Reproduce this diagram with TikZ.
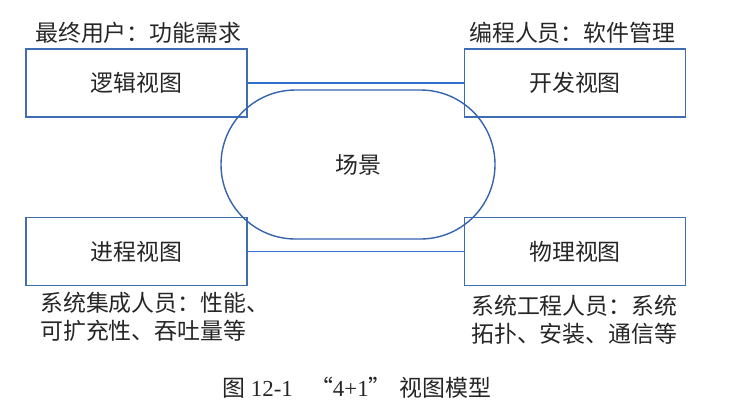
\documentclass[tikz,border=0pt]{standalone}
\usepackage{fontspec}
\setmainfont{Liberation Serif}
\newfontfamily\cjk{Noto Sans CJK SC}
\usetikzlibrary{shapes.misc}
\definecolor{boxblue}{HTML}{3F6DB3}
\definecolor{lineblue}{HTML}{2E72CC}
\definecolor{ovalblue}{HTML}{3463B0}
\definecolor{txt}{HTML}{262626}
\tikzset{
  viewbox/.style={draw=boxblue, line width=1.4bp, minimum width=221bp, minimum height=68bp, inner sep=0pt, font=\cjk\fontsize{23}{28}\selectfont, text=txt},
  lbl/.style={font=\cjk\fontsize{23}{28}\selectfont, text=txt, inner sep=0pt, align=left},
  conn/.style={draw=lineblue, line width=1.4bp},
}
\begin{document}
\begin{tikzpicture}[x=1bp,y=-1bp]
\useasboundingbox (0,0) rectangle (746,412);
\node[viewbox] (tl) at (136.5,83) {逻辑视图};
\node[viewbox] (tr) at (575,83) {开发视图};
\node[viewbox] (bl) at (136.5,251.5) {进程视图};
\node[viewbox] (br) at (575,251.5) {物理视图};
\node[rounded rectangle, draw=ovalblue, line width=1.4bp, minimum width=274bp, minimum height=149bp, inner sep=0pt, font=\cjk\fontsize{23}{28}\selectfont, text=txt] (sc) at (358,164.5) {场景};
\draw[conn] (tl.east) -- (tr.west);
\draw[conn] (bl.east) -- (br.west);
\node[lbl, anchor=west] (tll) at (35,33) {最终用户：功能需求};
\node[lbl, anchor=west] (trl) at (469,33) {编程人员：软件管理};
\node[lbl, anchor=west] (bll) at (40,303) {系统集成人员：性能、};
\node[lbl, anchor=west] (bll2) at (40,331) {可扩充性、吞吐量等};
\node[lbl, anchor=west] (brl) at (471,306) {系统工程人员：系统};
\node[lbl, anchor=west] (brl2) at (471,334) {拓扑、安装、通信等};
\node[font=\fontsize{23}{28}\selectfont, text=txt, inner sep=0pt, anchor=west] (cap) at (222,388) {{\cjk 图}\ 12-1\ \ \ {\cjk “}4+1{\cjk ”}\hspace{8bp}{\cjk 视图模型}};
\end{tikzpicture}
\end{document}
